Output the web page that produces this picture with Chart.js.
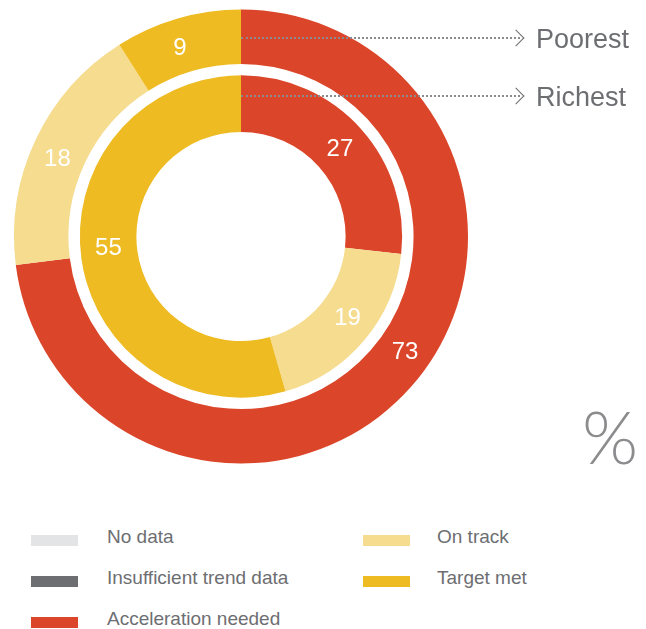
<!DOCTYPE html>
<html>
<head>
<meta charset="utf-8">
<script src="https://cdn.jsdelivr.net/npm/chart.js@4/dist/chart.umd.min.js"></script>
<style>
  body { margin: 0; background: #fff; font-family: "Liberation Sans", Arial, sans-serif; }
  #wrap { position: relative; width: 646px; height: 629px; overflow: hidden; }
  #box { position: absolute; left: 0; top: 0; width: 482px; height: 473px; }
  .tag { position: absolute; font-size: 27px; color: #6d6e71; line-height: 1; }
  .lead { position: absolute; height: 0; border-top: 2px dotted #8a8b8e; }
  .chev { position: absolute; width: 11px; height: 11px; border-top: 1.5px solid #6d6e71; border-right: 1.5px solid #6d6e71; transform: rotate(45deg); }
  .pct { position: absolute; left: 582px; top: 400px; font-family: Lato, sans-serif; font-weight: 300; font-size: 72px; color: #8c8c8e; line-height: 1; }
  .leg { position: absolute; font-size: 19px; color: #6d6e71; line-height: 1; }
  .sw { position: absolute; width: 47px; height: 11px; }
</style>
</head>
<body>
<div id="wrap">
  <div id="box"><canvas id="myChart"></canvas></div>

  <div class="lead" style="left:241px; top:37px; width:279px;"></div>
  <div class="chev" style="left:510px; top:32px;"></div>
  <div class="tag" style="left:536px; top:26px;">Poorest</div>

  <div class="lead" style="left:241px; top:95px; width:279px;"></div>
  <div class="chev" style="left:510px; top:90px;"></div>
  <div class="tag" style="left:536px; top:84px;">Richest</div>

  <div class="pct">%</div>

  <div id="legend"></div>
</div>

<script>
// data
var categories = ["Acceleration needed", "On track", "Target met"];
var poorest = [73, 18, 9];
var richest = [27, 19, 55];
var colours = ["#db4529", "#f6dc8f", "#eebb22"];

var legendNames = ["No data", "Insufficient trend data", "Acceleration needed", "On track", "Target met"];
var legendColours = ["#e3e4e5", "#6d6e71", "#db4529", "#f6dc8f", "#eebb22"];

// legend (two columns)
var legendBox = document.getElementById("legend");
legendNames.forEach(function (name, i) {
  var col = i < 3 ? 0 : 1;
  var row = i < 3 ? i : i - 3;
  var sw = document.createElement("div");
  sw.className = "sw";
  sw.style.left = (col ? 363 : 31) + "px";
  sw.style.top = (535 + row * 41) + "px";
  sw.style.background = legendColours[i];
  legendBox.appendChild(sw);
  var tx = document.createElement("div");
  tx.className = "leg";
  tx.style.left = (col ? 437 : 107) + "px";
  tx.style.top = (527 + row * 41) + "px";
  tx.textContent = name;
  legendBox.appendChild(tx);
});

// white numbers on the rings
var numberLabels = {
  id: "numberLabels",
  afterDatasetsDraw: function (chart, args, opts) {
    var ctx = chart.ctx;
    ctx.save();
    ctx.fillStyle = "#fff";
    ctx.font = "24px 'Liberation Sans', Arial, sans-serif";
    ctx.textAlign = "center";
    ctx.textBaseline = "middle";
    chart.data.datasets.forEach(function (ds, di) {
      if (ds.spacer) return;
      chart.getDatasetMeta(di).data.forEach(function (arc, i) {
        var p = arc.getProps(["x", "y", "startAngle", "endAngle", "innerRadius", "outerRadius"]);
        var f = (opts.along[di + "-" + i] || 0.5);
        var a = p.startAngle + (p.endAngle - p.startAngle) * f;
        var r = (p.innerRadius + p.outerRadius) / 2;
        ctx.fillText(ds.data[i], p.x + Math.cos(a) * r, p.y + Math.sin(a) * r + 2);
      });
    });
    ctx.restore();
  }
};

var chart = new Chart(document.getElementById("myChart"), {
  type: "doughnut",
  data: {
    labels: categories,
    datasets: [
      { label: "Poorest", data: poorest, backgroundColor: colours, borderWidth: 0, weight: 52.5 },
      { label: "", data: [1], backgroundColor: "rgba(0,0,0,0)", borderWidth: 0, weight: 11, spacer: true },
      { label: "Richest", data: richest, backgroundColor: colours, borderWidth: 0, weight: 54.5 }
    ]
  },
  options: {
    responsive: true,
    maintainAspectRatio: false,
    animation: false,
    radius: 227,
    cutout: 109,
    layout: { padding: 0 },
    plugins: {
      legend: { display: false },
      tooltip: { enabled: false },
      numberLabels: { along: { "0-0": 0.475, "0-1": 0.47, "0-2": 0.45, "2-1": 0.45, "2-2": 0.52 } }
    }
  },
  plugins: [numberLabels]
});
</script>
</body>
</html>
